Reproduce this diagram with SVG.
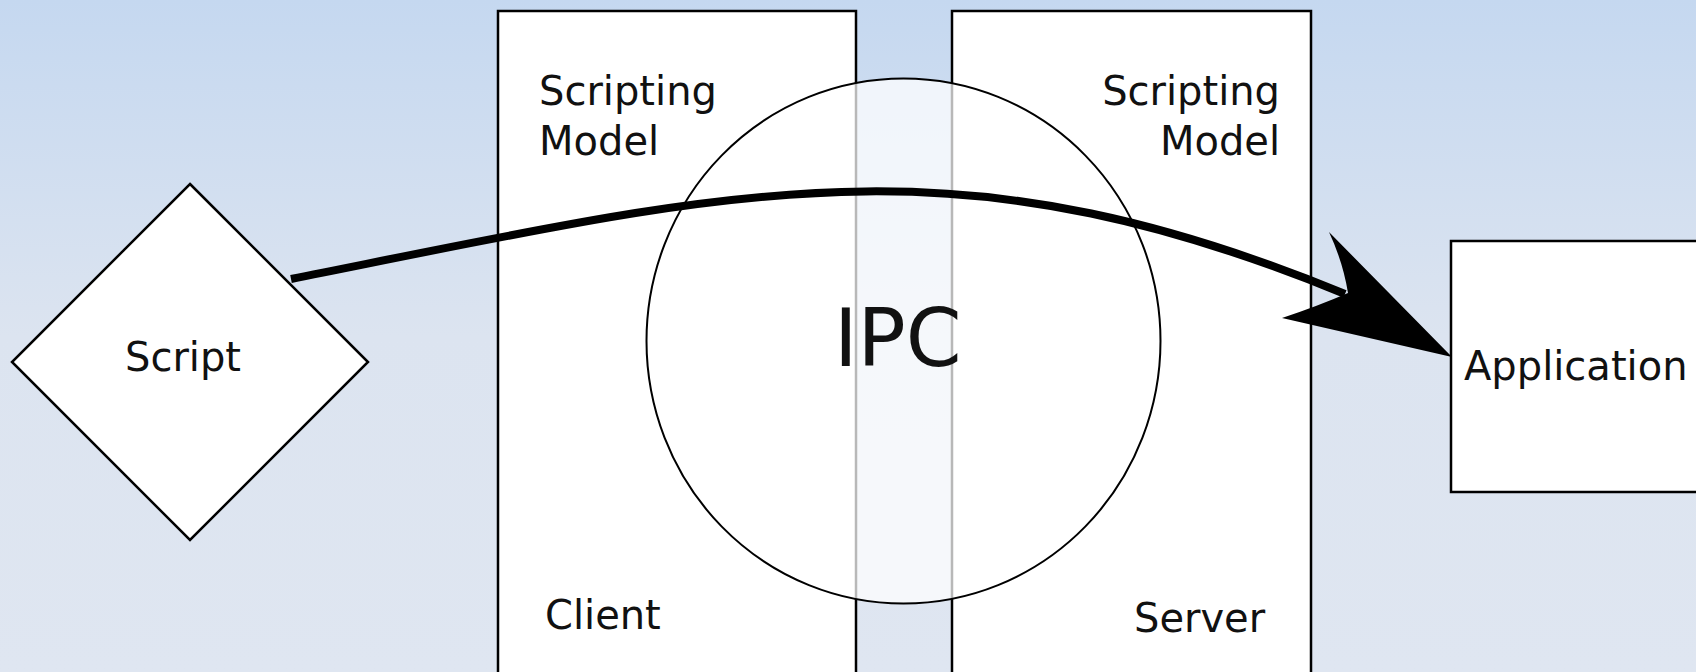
<svg xmlns="http://www.w3.org/2000/svg" width="1696" height="672" viewBox="0 0 1696 672">
  <defs>
    <linearGradient id="bg" x1="0" y1="0" x2="0" y2="1">
      <stop offset="0" stop-color="#c5d8f0"/>
      <stop offset="0.5" stop-color="#dce4f0"/>
      <stop offset="1" stop-color="#dfe6f1"/>
    </linearGradient>
  </defs>
  <style>
    .box { fill: #ffffff; stroke: #000000; stroke-width: 2.5; }
    .label { font-family: "DejaVu Sans", "Liberation Sans", sans-serif; font-size: 40px; fill: #111111; }
    .big { font-size: 80px; }
    .end { text-anchor: end; }
    .ring { fill: #ffffff; fill-opacity: 0.72; stroke: #000000; stroke-width: 2; }
    .flow { fill: none; stroke: #000000; stroke-width: 8; }
    .head { fill: #000000; stroke: none; }
  </style>

  <!-- backdrop -->
  <rect x="0" y="0" width="1696" height="672" fill="url(#bg)"/>

  <!-- script node -->
  <g id="node-script">
    <polygon class="box" stroke-width="2" points="190,184 368,362 190,540 12,362"/>
    <text class="label" x="125" y="371">Script</text>
  </g>

  <!-- client side of the scripting model -->
  <g id="node-client">
    <rect class="box" x="498" y="11" width="358" height="680"/>
    <text class="label" x="539" y="105">Scripting</text>
    <text class="label" x="539" y="155">Model</text>
    <text class="label" x="545" y="629">Client</text>
  </g>

  <!-- server side of the scripting model -->
  <g id="node-server">
    <rect class="box" x="952" y="11" width="359" height="680"/>
    <text class="label end" x="1280" y="105">Scripting</text>
    <text class="label end" x="1280" y="155">Model</text>
    <text class="label" x="1134" y="632">Server</text>
  </g>

  <!-- application node -->
  <g id="node-application">
    <rect class="box" stroke-width="2" x="1451" y="241" width="260" height="251"/>
    <text class="label" x="1464" y="380">Application</text>
  </g>

  <!-- IPC channel bridging client and server -->
  <g id="node-ipc">
    <ellipse class="ring" cx="903.5" cy="341" rx="257" ry="262.5"/>
    <text class="label big" x="834" y="366">IPC</text>
  </g>

  <!-- call path from script to application -->
  <g id="connectors">
    <path class="flow" d="M291,279 C741,189 950,132 1345,294"/>
    <path class="head" d="M1452,357 L1329,232 Q1343,262 1348,293 Q1318,306 1282,318 Z"/>
  </g>
</svg>
